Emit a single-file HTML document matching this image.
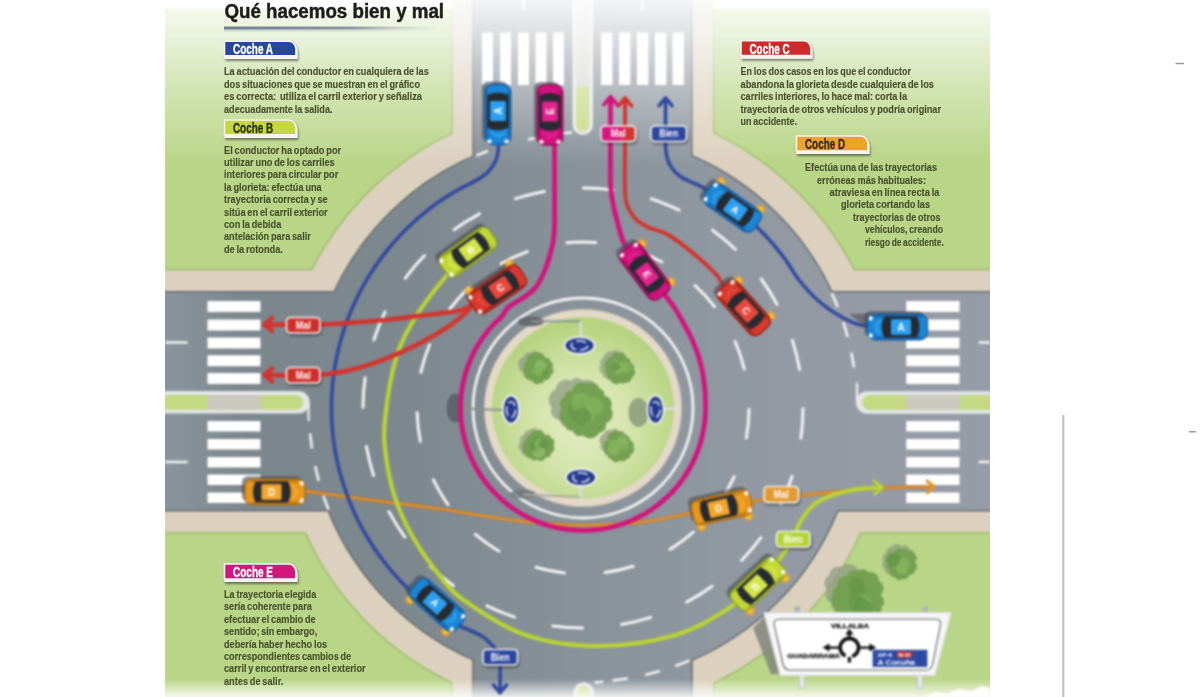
<!DOCTYPE html>
<html lang="es"><head><meta charset="utf-8"><title>Qué hacemos bien y mal</title>
<style>
html,body{margin:0;padding:0;background:#fff}
body{width:1200px;height:697px;overflow:hidden;position:relative}
svg{position:absolute;left:0;top:0;display:block}
text{font-family:"Liberation Sans",sans-serif}
.b{font-weight:bold}
.body{font-size:11.5px;font-weight:bold;fill:#48512d;stroke:#48512d;stroke-width:.15px;word-spacing:-.9px}
.lab{font-size:15px;font-weight:bold;stroke-width:.35px}
.tag{font-size:10px;font-weight:bold;fill:#fff}
.car{font-size:10px;font-weight:bold;fill:#fff}
</style></head><body>
<svg width="1200" height="697" viewBox="0 0 1200 697">
<defs>
<clipPath id="img"><rect x="165" y="0" width="825" height="697"/></clipPath>
<linearGradient id="fadeTop" x1="0" y1="0" x2="0" y2="1"><stop offset="0" stop-color="#fff" stop-opacity=".9"/><stop offset=".2" stop-color="#fff" stop-opacity=".72"/><stop offset=".5" stop-color="#fff" stop-opacity=".4"/><stop offset="1" stop-color="#fff" stop-opacity="0"/></linearGradient>
<linearGradient id="fadeBot" x1="0" y1="0" x2="0" y2="1"><stop offset="0" stop-color="#fff" stop-opacity="0"/><stop offset="1" stop-color="#fff" stop-opacity=".85"/></linearGradient>
<radialGradient id="isl" cx=".5" cy=".58" r=".55"><stop offset="0" stop-color="#e5edc6"/><stop offset=".5" stop-color="#d4e4aa"/><stop offset="1" stop-color="#b5d380"/></radialGradient>
<linearGradient id="roadg" gradientUnits="userSpaceOnUse" x1="165" y1="0" x2="990" y2="0"><stop offset="0" stop-color="#8a949c"/><stop offset=".1" stop-color="#7c868d"/><stop offset=".3" stop-color="#7e888f"/><stop offset=".53" stop-color="#8a939b"/><stop offset=".77" stop-color="#939aa3"/><stop offset="1" stop-color="#969da6"/></linearGradient>
<linearGradient id="rule" x1="0" y1="0" x2="1" y2="0"><stop offset="0" stop-color="#6f7f8e"/><stop offset=".6" stop-color="#8e9aa5"/><stop offset="1" stop-color="#b9c4c4" stop-opacity="0"/></linearGradient>
<linearGradient id="malg" x1="0" y1="0" x2="1" y2="0"><stop offset="0" stop-color="#d6127f"/><stop offset=".45" stop-color="#d6127f"/><stop offset=".8" stop-color="#d4352e"/><stop offset="1" stop-color="#d4352e"/></linearGradient>
<filter id="sh" x="-20%" y="-30%" width="140%" height="170%"><feGaussianBlur in="SourceAlpha" stdDeviation="1"/><feOffset dx="0.5" dy="1.5"/><feComponentTransfer><feFuncA type="linear" slope=".45"/></feComponentTransfer><feMerge><feMergeNode/><feMergeNode in="SourceGraphic"/></feMerge></filter>
<filter id="blur1"><feGaussianBlur stdDeviation="1.2"/></filter>
<filter id="blur2"><feGaussianBlur stdDeviation="2"/></filter>
<filter id="gblur" color-interpolation-filters="sRGB" filterUnits="userSpaceOnUse" x="0" y="0" width="1200" height="697"><feGaussianBlur stdDeviation=".8"/></filter>
<filter id="soft" color-interpolation-filters="sRGB"><feGaussianBlur stdDeviation=".45"/></filter>
</defs>
<rect width="1200" height="697" fill="#fff"/>
<g clip-path="url(#img)"><g filter="url(#gblur)">

<rect x="155" y="-10" width="845" height="717" fill="#dcd1be"/>
<rect x="155" y="-10" width="297" height="280" fill="#b9d587"/>
<rect x="713.8" y="-10" width="287" height="280" fill="#b9d587"/>
<rect x="155" y="532.5" width="297" height="180" fill="#b9d587"/>
<rect x="713.8" y="532.5" width="287" height="180" fill="#b9d587"/>
<clipPath id="pan"><rect x="165" y="0" width="287" height="270"/><rect x="713.75" y="0" width="277" height="270"/><rect x="165" y="532.5" width="287" height="170"/><rect x="713.75" y="532.5" width="277" height="170"/></clipPath>
<path d="M165 269.5H452V0M713.75 0V269.5H990M165 533H452V697M713.75 697V533H990" fill="none" stroke="#9fbd6e" stroke-width="1.6"/>
<circle cx="583" cy="408" r="304" fill="#dcd1be"/>
<circle cx="583" cy="408" r="304.5" fill="none" stroke="#9fbd6e" stroke-width="1.6" clip-path="url(#pan)"/>
<g fill="#636b73" stroke="#636b73" stroke-width="3"><circle cx="583" cy="408" r="274"/><rect x="473.75" y="-5" width="217.4" height="420"/><rect x="473.75" y="400" width="217.5" height="305"/><rect x="160" y="292.5" width="430" height="217.5"/><rect x="580" y="292.5" width="415" height="217.5"/></g>
<g fill="url(#roadg)"><circle cx="583" cy="408" r="274"/><rect x="473.75" y="-5" width="217.4" height="420"/><rect x="473.75" y="400" width="217.5" height="305"/><rect x="160" y="292.5" width="430" height="217.5"/><rect x="580" y="292.5" width="415" height="217.5"/></g>
<rect x="200" y="293" width="68" height="98" fill="#3b444c" opacity="0"/><rect x="200" y="411" width="68" height="99" fill="#3b444c" opacity="0"/><rect x="899" y="293" width="68" height="98" fill="#3b444c" opacity="0"/><rect x="899" y="414" width="68" height="96" fill="#3b444c" opacity="0"/>
<path d="M572.5 -5V124.75A10.25 10.25 0 0 0 593 124.75V-5Z" fill="#e3e6e7"/>
<path d="M576 -5V124.75A6.75 6.75 0 0 0 589.5 124.75V-5Z" fill="#c5d983"/>
<rect x="576" y="-5" width="13.5" height="92" fill="#d6d7d2"/>
<path d="M160 391H298.5A11.25 11.25 0 0 1 298.5 413.5H160Z" fill="#e3e6e7"/>
<path d="M160 395H296A7.4 7.4 0 0 1 296 409.8H160Z" fill="#c5d983"/>
<rect x="207.5" y="395" width="53" height="14.8" fill="#cbc8c0"/>
<path d="M308.6 403V421" stroke="#eef0f2" stroke-width="2.2" fill="none"/>
<path d="M995 391.25H867.25A11.25 11.25 0 0 0 867.25 413.75H995Z" fill="#e3e6e7"/>
<path d="M995 395.1H869.5A7.4 7.4 0 0 0 869.5 409.9H995Z" fill="#c5d983"/>
<rect x="906.25" y="395.1" width="53.25" height="14.8" fill="#cbc8c0"/>
<path d="M857 382.5V401" stroke="#eef0f2" stroke-width="2.2" fill="none"/>
<path d="M573.5 705V692.5A10.25 10.25 0 0 1 594 692.5V705Z" fill="#e3e6e7"/>
<path d="M577 705V692.5A6.75 6.75 0 0 1 590.5 692.5V705Z" fill="#c5d983"/>
<circle cx="583" cy="408" r="110" fill="none" stroke="#f1f3f5" stroke-width="2.8"/>
<path d="M803 408.4A220 220 0 0 1 800.9 438.2M792.1 476.3A220 220 0 0 1 780.9 504.1M760.8 537.6A220 220 0 0 1 741.5 560.5M712 586.2A220 220 0 0 1 686.6 602.1M650.6 617.4A220 220 0 0 1 621.6 624.6M582.6 628A220 220 0 0 1 552.8 625.9M514.7 617.1A220 220 0 0 1 486.9 605.9M453.4 585.8A220 220 0 0 1 430.5 566.5M404.8 537A220 220 0 0 1 388.9 511.6M373.6 475.6A220 220 0 0 1 366.4 446.6M363 407.6A220 220 0 0 1 365.1 377.8M373.9 339.7A220 220 0 0 1 385.1 311.9M405.2 278.4A220 220 0 0 1 424.5 255.5M454 229.8A220 220 0 0 1 479.4 213.9M515.4 198.6A220 220 0 0 1 544.4 191.4M583.4 188A220 220 0 0 1 613.2 190.1M651.3 198.9A220 220 0 0 1 679.1 210.1M712.6 230.2A220 220 0 0 1 735.5 249.5M761.2 279A220 220 0 0 1 777.1 304.4M792.4 340.4A220 220 0 0 1 799.6 369.4M564.5 573A166 166 0 0 1 536.1 567.2M499 551.2A166 166 0 0 1 475.4 534.4M448 504.6A166 166 0 0 1 433.3 479.7M420.4 441.4A166 166 0 0 1 417.1 412.6M420.9 372.4A166 166 0 0 1 429.5 344.7M449.4 309.5A166 166 0 0 1 468.5 287.8M501 263.7A166 166 0 0 1 527.3 251.6M566.8 242.8A166 166 0 0 1 595.7 242.5M635.4 250.5A166 166 0 0 1 662 262M694.9 285.4A166 166 0 0 1 714.5 306.7M735.1 341.5A166 166 0 0 1 744.3 369M749 409.2A166 166 0 0 1 746.3 438M734.2 476.6A166 166 0 0 1 720 501.8M693.2 532.1A166 166 0 0 1 670 549.4M633.2 566.2A166 166 0 0 1 605 572.5" fill="none" stroke="#f1f3f5" stroke-width="3" stroke-linecap="round"/>
<path d="M312 448.5A274 274 0 0 1 310.2 433.3M318.8 480.8A274 274 0 0 1 315.2 465.9M328.6 509.8A274 274 0 0 1 323.3 495.4M831.7 293.1A274 274 0 0 1 837.8 307.1M843.3 322.4A274 274 0 0 1 847.7 337.1M851.3 352.4A274 274 0 0 1 854 367.5M627.8 678.3A274 274 0 0 1 612.6 680.4M659.9 671A274 274 0 0 1 645.1 674.9M689.6 660.4A274 274 0 0 1 675.4 666M476.4 155.6A274 274 0 0 1 487.9 151M527.9 139.6A274 274 0 0 1 540.1 137.4M572 132.5L560 133.5M594.5 682.5L603 681.7" fill="none" stroke="#f1f3f5" stroke-width="2.6"/>
<path d="M165 342.5H187.5M165 462H187.5M978.75 342.5H990M978.75 462H990M523.75 0V11M642.5 0V11" stroke="#f1f3f5" stroke-width="2.6" fill="none"/>
<rect x="155" y="0" width="845" height="165" fill="url(#fadeTop)"/><rect x="155" y="-10" width="845" height="10" fill="#fff" opacity=".9"/>
<rect x="155" y="679" width="845" height="18" fill="url(#fadeBot)"/><rect x="155" y="697" width="845" height="12" fill="#fff" opacity=".85"/>
<rect x="155" y="-10" width="297" height="19" fill="#fff"/><rect x="713.75" y="-10" width="287" height="19" fill="#fff"/>
<path d="M207.5 301h53v11h-53zM906.25 301h53.25v11h-53.25zM207.5 319.5h53v11h-53zM906.25 319.5h53.25v11h-53.25zM207.5 337.5h53v11h-53zM906.25 337.5h53.25v11h-53.25zM207.5 355.2h53v11h-53zM906.25 355.2h53.25v11h-53.25zM207.5 373h53v11h-53zM906.25 373h53.25v11h-53.25zM207.5 421h53v10.6h-53zM906.25 421h53.25v10.6h-53.25zM207.5 439h53v10.6h-53zM906.25 439h53.25v10.6h-53.25zM207.5 457h53v10.6h-53zM906.25 457h53.25v10.6h-53.25zM207.5 474.5h53v10.6h-53zM906.25 474.5h53.25v10.6h-53.25zM207.5 492.5h53v10.6h-53zM906.25 492.5h53.25v10.6h-53.25zM482 32.5h11v52.5h-11zM500 32.5h11v52.5h-11zM518 32.5h11v52.5h-11zM535.5 32.5h11v52.5h-11zM553 32.5h11v52.5h-11zM601 32.5h11.4v52.5h-11.4zM619 32.5h11.4v52.5h-11.4zM637 32.5h11.4v52.5h-11.4zM655 32.5h11.4v52.5h-11.4zM672.5 32.5h11.4v52.5h-11.4z" fill="#fff"/>
<circle cx="583" cy="408" r="98.6" fill="#e4d9c7" stroke="#c9bfae" stroke-width=".8"/>
<circle cx="583" cy="408" r="90.9" fill="url(#isl)"/>
<g filter="url(#soft)">
<ellipse cx="531" cy="321.5" rx="13" ry="5" fill="#5f666d" opacity=".9"/>
<path d="M531 321.3H580.5" stroke="#8d948f" stroke-width="2" fill="none"/>
<ellipse cx="455" cy="408" rx="8.5" ry="14.5" fill="#5a6168" opacity=".92"/>
<path d="M462 408.5L504 410" stroke="#8a9189" stroke-width="2" fill="none"/>
<ellipse cx="638.5" cy="412.5" rx="10" ry="14.5" fill="#8a9a7a" opacity=".85"/>
<ellipse cx="523" cy="494" rx="13" ry="4.5" fill="#6f767c" opacity=".8"/>
<path d="M523 494.5L580 497" stroke="#a9aa9c" stroke-width="2" fill="none"/>
</g>
<path d="M580.6 322V338M580.6 486V497.5M663 408.7H674" stroke="#d8dcdf" stroke-width="2.4" fill="none"/>
<path d="M548.9 365.7A5.3 5.3 0 0 1 545.7 373.7A6.4 6.4 0 0 1 536.8 378.9A5 5 0 0 1 528.7 378.8A5.5 5.5 0 0 1 523.1 371.8A4.3 4.3 0 0 1 518.8 366.5A6.7 6.7 0 0 1 523.7 356.9A5 5 0 0 1 530.7 352.8A4.4 4.4 0 0 1 537.7 352.1A4.9 4.9 0 0 1 543.8 357.1A6.2 6.2 0 0 1 548.9 365.7Z" fill="#8d9a84" opacity=".75"/><path d="M552.2 367.6A4.9 4.9 0 0 1 550.7 375.3A5 5 0 0 1 544 379.7A3.6 3.6 0 0 1 539.8 383.6A5.2 5.2 0 0 1 532.1 380.3A5.8 5.8 0 0 1 525.1 374A4.2 4.2 0 0 1 524 367.4A4 4 0 0 1 527 361.6A4.7 4.7 0 0 1 530.8 355A4.6 4.6 0 0 1 538.1 353.6A4.9 4.9 0 0 1 544.8 357.8A4.6 4.6 0 0 1 550.9 362.1A3.5 3.5 0 0 1 552.2 367.6Z" fill="#74a052"/><path d="M545.7 372.8A2.4 2.4 0 0 1 544.3 376.4A2.3 2.3 0 0 1 540.5 376.6A2 2 0 0 1 537.5 375.6A2.5 2.5 0 0 1 537.9 371.6A2.6 2.6 0 0 1 541 368.9A2.2 2.2 0 0 1 544.3 370.1A1.9 1.9 0 0 1 545.7 372.8Z" fill="#679848" opacity=".85"/><path d="M544.8 372.4A2.4 2.4 0 0 1 542.3 375.4A2.2 2.2 0 0 1 539.1 377A3 3 0 0 1 535 374.3A2.7 2.7 0 0 1 534.9 369.9A2.7 2.7 0 0 1 538.2 367A3 3 0 0 1 542.7 368.6A2.7 2.7 0 0 1 544.8 372.4Z" fill="#679848" opacity=".85"/><path d="M547.9 369.9A2.7 2.7 0 0 1 547 374.1A2.8 2.8 0 0 1 542.5 375A3.1 3.1 0 0 1 538.9 371.4A2.4 2.4 0 0 1 538.3 367.5A2.4 2.4 0 0 1 541.4 365.3A3.1 3.1 0 0 1 546.4 366.1A2.5 2.5 0 0 1 547.9 369.9Z" fill="#679848" opacity=".85"/><path d="M546.2 366.3A3 3 0 0 1 543.3 370.2A2.3 2.3 0 0 1 539.9 371.5A3.2 3.2 0 0 1 535.2 369.2A3.5 3.5 0 0 1 535.5 363.7A3 3 0 0 1 539.2 360.7A2.7 2.7 0 0 1 543.4 361.9A3.2 3.2 0 0 1 546.2 366.3Z" fill="#8eba68" opacity=".85"/><path d="M543 371.9A2.4 2.4 0 0 1 541.2 375.3A2.7 2.7 0 0 1 536.9 375.7A2.8 2.8 0 0 1 533 373.4A3.3 3.3 0 0 1 532.9 368.1A2.7 2.7 0 0 1 537 366.4A3.1 3.1 0 0 1 541.8 367.6A2.8 2.8 0 0 1 543 371.9Z" fill="#82b05c" opacity=".85"/>
<path d="M630 363.8A5.8 5.8 0 0 1 627.4 372.8A7 7 0 0 1 618.3 379.5A4.3 4.3 0 0 1 611.4 378.3A6.4 6.4 0 0 1 602.2 373.5A5.5 5.5 0 0 1 601 364.8A4.8 4.8 0 0 1 603.7 357.6A5.9 5.9 0 0 1 611.4 352.1A5 5 0 0 1 619.4 351.8A5.4 5.4 0 0 1 625.4 358.2A4.5 4.5 0 0 1 630 363.8Z" fill="#8d9a84" opacity=".75"/><path d="M633.9 368.9A5.3 5.3 0 0 1 631.9 377.2A4.9 4.9 0 0 1 625.9 382.3A3.3 3.3 0 0 1 620.6 382.4A6.4 6.4 0 0 1 610.4 380.3A4.4 4.4 0 0 1 607.3 373.8A3.4 3.4 0 0 1 605.7 368.6A4.6 4.6 0 0 1 606.7 361.2A3.4 3.4 0 0 1 611.1 357.9A5.3 5.3 0 0 1 618.2 353.1A5.7 5.7 0 0 1 626.2 357.7A4.2 4.2 0 0 1 630.6 362.9A4.3 4.3 0 0 1 633.9 368.9Z" fill="#74a052"/><path d="M631.8 366.9A3.3 3.3 0 0 1 629.5 371.7A3.2 3.2 0 0 1 624.3 372.5A2.5 2.5 0 0 1 621.6 369.5A3.6 3.6 0 0 1 621.3 363.8A2.8 2.8 0 0 1 625.4 362.1A2.3 2.3 0 0 1 629 362.9A3 3 0 0 1 631.8 366.9Z" fill="#82b05c" opacity=".85"/><path d="M622.1 369.6A2.4 2.4 0 0 1 620.3 373.1A2.2 2.2 0 0 1 616.8 373.7A2.5 2.5 0 0 1 613.7 371.1A1.9 1.9 0 0 1 613.7 368A2.1 2.1 0 0 1 616.3 365.9A2.2 2.2 0 0 1 619.9 366.1A2.5 2.5 0 0 1 622.1 369.6Z" fill="#88b562" opacity=".85"/><path d="M625.6 367A2.5 2.5 0 0 1 623.6 370.5A2 2 0 0 1 620.4 371.2A2.1 2.1 0 0 1 617.7 369.1A2.6 2.6 0 0 1 617.3 364.9A2 2 0 0 1 620.1 363.3A2.3 2.3 0 0 1 623.9 363.2A2.6 2.6 0 0 1 625.6 367Z" fill="#88b562" opacity=".85"/><path d="M622.2 364.6A3.5 3.5 0 0 1 620.2 369.9A2.7 2.7 0 0 1 615.9 369.8A3.1 3.1 0 0 1 611.7 367.2A2.6 2.6 0 0 1 611.7 363A3.1 3.1 0 0 1 615.3 359.7A2.6 2.6 0 0 1 619.3 361.2A2.8 2.8 0 0 1 622.2 364.6Z" fill="#82b05c" opacity=".85"/><path d="M620.1 366.3A2.8 2.8 0 0 1 617.4 369.9A2.3 2.3 0 0 1 613.8 371A2.4 2.4 0 0 1 611.5 367.9A1.9 1.9 0 0 1 611 364.9A2.7 2.7 0 0 1 614.4 362.2A2.1 2.1 0 0 1 617.8 363A2.5 2.5 0 0 1 620.1 366.3Z" fill="#679848" opacity=".85"/>
<path d="M547 443.6A5.6 5.6 0 0 1 545.8 452.6A4.4 4.4 0 0 1 539.6 455.8A5.8 5.8 0 0 1 530.3 456.1A6.6 6.6 0 0 1 520.9 451.1A5.4 5.4 0 0 1 520.3 442.3A5.2 5.2 0 0 1 524.3 434.9A4.4 4.4 0 0 1 529.6 430.2A4.5 4.5 0 0 1 536.9 429.6A5.9 5.9 0 0 1 544.6 435A5.5 5.5 0 0 1 547 443.6Z" fill="#8d9a84" opacity=".75"/><path d="M553.6 445.5A4.7 4.7 0 0 1 551.4 452.7A4.5 4.5 0 0 1 545.7 457.3A5.9 5.9 0 0 1 536.4 459.6A3.7 3.7 0 0 1 530.6 458.3A4.1 4.1 0 0 1 525.9 453.7A4.2 4.2 0 0 1 522.9 447.6A4.5 4.5 0 0 1 525.9 441A4.1 4.1 0 0 1 530 435.8A5.5 5.5 0 0 1 537.7 431.1A4.7 4.7 0 0 1 544.1 435.2A4.7 4.7 0 0 1 551.1 437.9A4.9 4.9 0 0 1 553.6 445.5Z" fill="#74a052"/><path d="M544.8 451.6A3.4 3.4 0 0 1 542.4 456.5A3.1 3.1 0 0 1 537.5 457.3A3.5 3.5 0 0 1 533.2 453.7A2.7 2.7 0 0 1 533.1 449.4A2.9 2.9 0 0 1 536.8 446.4A3.1 3.1 0 0 1 541.8 446.7A3.6 3.6 0 0 1 544.8 451.6Z" fill="#8eba68" opacity=".85"/><path d="M538.3 446.9A2.5 2.5 0 0 1 536.3 450.4A2 2 0 0 1 533.1 451.1A2.1 2.1 0 0 1 530.4 449A2.6 2.6 0 0 1 530 444.8A2 2 0 0 1 532.8 443.2A2.3 2.3 0 0 1 536.6 443.1A2.6 2.6 0 0 1 538.3 446.9Z" fill="#679848" opacity=".85"/><path d="M543.5 442.4A3.4 3.4 0 0 1 541.5 447.5A2.6 2.6 0 0 1 537.3 447.5A3 3 0 0 1 533.2 444.9A2.6 2.6 0 0 1 533.2 440.8A3 3 0 0 1 536.7 437.5A2.6 2.6 0 0 1 540.6 439A2.7 2.7 0 0 1 543.5 442.4Z" fill="#639546" opacity=".85"/><path d="M546.1 443.8A3.5 3.5 0 0 1 542.7 448.2A2.9 2.9 0 0 1 538.1 449.6A2.9 2.9 0 0 1 535.3 445.8A2.4 2.4 0 0 1 534.7 442A3.4 3.4 0 0 1 539 438.7A2.7 2.7 0 0 1 543.2 439.6A3.2 3.2 0 0 1 546.1 443.8Z" fill="#82b05c" opacity=".85"/><path d="M548.1 443.9A2.4 2.4 0 0 1 546.4 447.4A2.1 2.1 0 0 1 543 447.8A2.8 2.8 0 0 1 539.3 445.1A2.1 2.1 0 0 1 540.4 441.8A2.3 2.3 0 0 1 542.5 438.8A2.2 2.2 0 0 1 545.8 440.2A2.7 2.7 0 0 1 548.1 443.9Z" fill="#639546" opacity=".85"/>
<path d="M629 443.3A5.9 5.9 0 0 1 625.2 452A4.4 4.4 0 0 1 620 456.8A5.7 5.7 0 0 1 610.8 456.1A5 5 0 0 1 604.3 451.4A4.9 4.9 0 0 1 600.8 444.4A6.9 6.9 0 0 1 604.2 433.8A4.8 4.8 0 0 1 611.2 430.4A4.7 4.7 0 0 1 618.7 431A5.6 5.6 0 0 1 626.1 436.1A4.8 4.8 0 0 1 629 443.3Z" fill="#8d9a84" opacity=".75"/><path d="M633.3 446.3A5.5 5.5 0 0 1 630.3 454.7A3.7 3.7 0 0 1 626.2 459A3.9 3.9 0 0 1 620.1 460.6A5.6 5.6 0 0 1 611.1 459.3A3.6 3.6 0 0 1 608.1 454.3A4.7 4.7 0 0 1 604 448A5.8 5.8 0 0 1 608.4 439.7A5.4 5.4 0 0 1 612.8 432.2A4.2 4.2 0 0 1 619.5 432A3.6 3.6 0 0 1 624.3 435.2A4.7 4.7 0 0 1 630 440.2A4.3 4.3 0 0 1 633.3 446.3Z" fill="#74a052"/><path d="M628.7 444.7A3.3 3.3 0 0 1 626 449.3A2.7 2.7 0 0 1 621.8 450.2A2.8 2.8 0 0 1 618.3 447.5A3.5 3.5 0 0 1 617.7 441.9A2.6 2.6 0 0 1 621.4 439.8A3.1 3.1 0 0 1 626.4 439.6A3.4 3.4 0 0 1 628.7 444.7Z" fill="#82b05c" opacity=".85"/><path d="M619.1 449.3A3.5 3.5 0 0 1 617.1 454.6A2.7 2.7 0 0 1 612.8 454.5A3.1 3.1 0 0 1 608.6 451.9A2.6 2.6 0 0 1 608.6 447.7A3 3 0 0 1 612.3 444.4A2.6 2.6 0 0 1 616.2 445.9A2.8 2.8 0 0 1 619.1 449.3Z" fill="#88b562" opacity=".85"/><path d="M620 445.1A3.3 3.3 0 0 1 616.8 449.3A2.8 2.8 0 0 1 612.5 450.6A2.8 2.8 0 0 1 609.8 447A2.2 2.2 0 0 1 609.3 443.4A3.2 3.2 0 0 1 613.3 440.3A2.5 2.5 0 0 1 617.2 441.2A3 3 0 0 1 620 445.1Z" fill="#88b562" opacity=".85"/><path d="M626.4 440.1A2.4 2.4 0 0 1 624.7 443.6A2.2 2.2 0 0 1 621.3 444A2.8 2.8 0 0 1 617.6 441.3A2.2 2.2 0 0 1 618.7 438A2.3 2.3 0 0 1 620.8 434.9A2.3 2.3 0 0 1 624.1 436.4A2.7 2.7 0 0 1 626.4 440.1Z" fill="#88b562" opacity=".85"/><path d="M620.2 446.3A2.8 2.8 0 0 1 616.8 449.3A2.3 2.3 0 0 1 613.2 450.4A2.5 2.5 0 0 1 610.4 447.6A2.3 2.3 0 0 1 609.8 443.9A2.7 2.7 0 0 1 613 440.9A2.4 2.4 0 0 1 616.7 442A3.4 3.4 0 0 1 620.2 446.3Z" fill="#82b05c" opacity=".85"/>
<path d="M602.7 403.2A9 9 0 0 1 601 417.6A13.5 13.5 0 0 1 583.6 430.8A8 8 0 0 1 571.3 426.9A8.3 8.3 0 0 1 559.9 420A9.4 9.4 0 0 1 551.6 407.2A11.3 11.3 0 0 1 555.4 389.5A11.2 11.2 0 0 1 571.2 380.9A7.2 7.2 0 0 1 582.8 380.8A9.1 9.1 0 0 1 596.1 387A10.8 10.8 0 0 1 602.7 403.2Z" fill="#8d9a84" opacity=".75"/><path d="M610.8 407.9A10 10 0 0 1 605.9 423.3A6.9 6.9 0 0 1 599.5 432.4A10.6 10.6 0 0 1 582.6 435.3A6.9 6.9 0 0 1 572.6 430.5A6 6 0 0 1 564.9 424.7A9.6 9.6 0 0 1 561.7 409.5A8.2 8.2 0 0 1 564.9 396.7A5.6 5.6 0 0 1 572 391.2A10.8 10.8 0 0 1 587.7 383.5A8 8 0 0 1 599.4 388.8A5.1 5.1 0 0 1 604 395.6A8.7 8.7 0 0 1 610.8 407.9Z" fill="#74a052"/><path d="M589.6 408.6A6.4 6.4 0 0 1 584.8 417.7A5.2 5.2 0 0 1 576.9 420.6A6.7 6.7 0 0 1 569 413.2A4.9 4.9 0 0 1 570.2 405.4A4.5 4.5 0 0 1 575.3 400.2A5.8 5.8 0 0 1 584.3 402.7A4.9 4.9 0 0 1 589.6 408.6Z" fill="#679848" opacity=".85"/><path d="M589.3 402.8A4.3 4.3 0 0 1 586.8 409.2A4.9 4.9 0 0 1 579.1 410.8A4.5 4.5 0 0 1 572.8 406.9A4.8 4.8 0 0 1 572.3 399.3A5.4 5.4 0 0 1 578.9 393.7A4.5 4.5 0 0 1 585.9 395.2A5.2 5.2 0 0 1 589.3 402.8Z" fill="#82b05c" opacity=".85"/><path d="M594.2 416.7A4.7 4.7 0 0 1 589.5 422.6A3.5 3.5 0 0 1 584.5 425.3A4.9 4.9 0 0 1 578.7 420.1A4.5 4.5 0 0 1 579.3 412.8A4.2 4.2 0 0 1 584.6 408.4A3.7 3.7 0 0 1 590.6 408.6A5.5 5.5 0 0 1 594.2 416.7Z" fill="#82b05c" opacity=".85"/><path d="M602.5 406A3.8 3.8 0 0 1 601 412A4.5 4.5 0 0 1 593.8 413.3A4.5 4.5 0 0 1 587.4 409.8A5.1 5.1 0 0 1 588.2 401.7A4.8 4.8 0 0 1 594 396.6A3.8 3.8 0 0 1 599 400.3A4.2 4.2 0 0 1 602.5 406Z" fill="#82b05c" opacity=".85"/><path d="M591.1 416.9A4.3 4.3 0 0 1 587.1 422.7A4.2 4.2 0 0 1 580.9 425.2A4.5 4.5 0 0 1 576.7 419.1A3.8 3.8 0 0 1 576.1 413.1A4.4 4.4 0 0 1 581.1 408.2A4.5 4.5 0 0 1 587.8 410.9A4.2 4.2 0 0 1 591.1 416.9Z" fill="#679848" opacity=".85"/>
<ellipse cx="579.5" cy="345.5" rx="15" ry="8.5" fill="#22398c" stroke="#f4f5f7" stroke-width="1.8"/><ellipse cx="579.5" cy="345.5" rx="8.2" ry="4.7" fill="none" stroke="#dfe5f4" stroke-width="1.6" stroke-dasharray="9.9 3.8"/>
<ellipse cx="581" cy="477.5" rx="15" ry="8.5" fill="#22398c" stroke="#f4f5f7" stroke-width="1.8"/><ellipse cx="581" cy="477.5" rx="8.2" ry="4.7" fill="none" stroke="#dfe5f4" stroke-width="1.6" stroke-dasharray="9.9 3.8"/>
<ellipse cx="511" cy="409.5" rx="8.2" ry="14" fill="#22398c" stroke="#f4f5f7" stroke-width="1.8"/><ellipse cx="511" cy="409.5" rx="4.5" ry="7.7" fill="none" stroke="#dfe5f4" stroke-width="1.6" stroke-dasharray="9.3 3.6"/>
<ellipse cx="655.5" cy="409.5" rx="8.2" ry="14" fill="#22398c" stroke="#f4f5f7" stroke-width="1.8"/><ellipse cx="655.5" cy="409.5" rx="4.5" ry="7.7" fill="none" stroke="#dfe5f4" stroke-width="1.6" stroke-dasharray="9.3 3.6"/>
<path d="M911.5 560.2A5.5 5.5 0 0 1 908.5 568.6A5.8 5.8 0 0 1 900.4 573.2A4.8 4.8 0 0 1 892.8 574.6A6.2 6.2 0 0 1 884.5 569A5.1 5.1 0 0 1 883.4 560.9A5.3 5.3 0 0 1 886.2 552.9A4.9 4.9 0 0 1 891.5 547A6 6 0 0 1 901.1 546.1A7.2 7.2 0 0 1 911 552.4A4.9 4.9 0 0 1 911.5 560.2Z" fill="#8d9a84" opacity=".75"/><path d="M914.7 561.9A5.5 5.5 0 0 1 914.9 570.8A4.2 4.2 0 0 1 909.1 574.4A5 5 0 0 1 902.5 578.9A4.8 4.8 0 0 1 895 577.4A5.8 5.8 0 0 1 889.7 569.7A4.2 4.2 0 0 1 887.1 563.4A4.8 4.8 0 0 1 887.3 555.7A4.5 4.5 0 0 1 894 553A6 6 0 0 1 903 549.3A3 3 0 0 1 907.6 550.9A5.3 5.3 0 0 1 915.2 555A4.3 4.3 0 0 1 914.7 561.9Z" fill="#74a052"/><path d="M902.4 562.5A3.2 3.2 0 0 1 901.4 567.5A2.8 2.8 0 0 1 897 567.8A3 3 0 0 1 892.4 566A3.2 3.2 0 0 1 892.1 560.9A3.3 3.3 0 0 1 896.7 558.2A2.7 2.7 0 0 1 901.1 558.8A2.4 2.4 0 0 1 902.4 562.5Z" fill="#8eba68" opacity=".85"/><path d="M904.7 561.6A2.8 2.8 0 0 1 902.9 565.8A2.6 2.6 0 0 1 898.7 565.7A2.4 2.4 0 0 1 895.9 563.1A1.9 1.9 0 0 1 896.5 560.1A2.2 2.2 0 0 1 899.2 557.7A2.2 2.2 0 0 1 902.8 557.8A2.7 2.7 0 0 1 904.7 561.6Z" fill="#639546" opacity=".85"/><path d="M907.4 567.9A3.2 3.2 0 0 1 906.2 573A3.6 3.6 0 0 1 900.5 573.4A3 3 0 0 1 897.1 570A2.9 2.9 0 0 1 897.6 565.5A3.2 3.2 0 0 1 901.2 561.7A2.9 2.9 0 0 1 905.6 563.1A3.2 3.2 0 0 1 907.4 567.9Z" fill="#88b562" opacity=".85"/><path d="M900.9 560.6A3 3 0 0 1 898 564.6A4 4 0 0 1 892 566.6A2.6 2.6 0 0 1 889.2 563.6A3.7 3.7 0 0 1 889 557.6A2.7 2.7 0 0 1 891.8 554.2A3.6 3.6 0 0 1 897.6 555.4A3.8 3.8 0 0 1 900.9 560.6Z" fill="#639546" opacity=".85"/><path d="M909.8 563.2A3.2 3.2 0 0 1 907.7 567.8A3.5 3.5 0 0 1 902.3 569.7A3 3 0 0 1 898.9 566.3A2.6 2.6 0 0 1 898.8 562A3.4 3.4 0 0 1 902.3 557.8A3.4 3.4 0 0 1 907.7 559.2A2.8 2.8 0 0 1 909.8 563.2Z" fill="#82b05c" opacity=".85"/>
<path d="M872.8 588.3A10.4 10.4 0 0 1 868 604.4A10.2 10.2 0 0 1 855.7 615.5A8.8 8.8 0 0 1 841.9 612.6A9.2 9.2 0 0 1 831.1 602.4A8.1 8.1 0 0 1 827.2 589.9A9.2 9.2 0 0 1 829.4 575.2A8.8 8.8 0 0 1 841.1 567.2A11 11 0 0 1 858.6 570.1A9.5 9.5 0 0 1 871.2 578.9A5.9 5.9 0 0 1 872.8 588.3Z" fill="#8d9a84" opacity=".75"/><path d="M880.3 595.3A7.5 7.5 0 0 1 881.5 607.4A9.9 9.9 0 0 1 869.8 618.2A7.8 7.8 0 0 1 857.2 619.6A8.4 8.4 0 0 1 844 616.7A8.2 8.2 0 0 1 834.9 607.1A8.1 8.1 0 0 1 833.6 594.1A5.2 5.2 0 0 1 837.3 586.5A9 9 0 0 1 847.3 576A7.5 7.5 0 0 1 858.4 571A6 6 0 0 1 868 572.3A8.3 8.3 0 0 1 878.7 580.4A9.3 9.3 0 0 1 880.3 595.3Z" fill="#74a052"/><path d="M865.1 591.1A4.1 4.1 0 0 1 864.1 597.7A5 5 0 0 1 856.2 599.2A4.1 4.1 0 0 1 851.5 594.4A4.3 4.3 0 0 1 851.3 587.6A4.3 4.3 0 0 1 856.9 583.4A4.2 4.2 0 0 1 863.2 585.9A3.4 3.4 0 0 1 865.1 591.1Z" fill="#679848" opacity=".85"/><path d="M863.9 585.4A4.3 4.3 0 0 1 860 591.1A2.9 2.9 0 0 1 855.3 591.8A3.3 3.3 0 0 1 850.9 588.7A3.8 3.8 0 0 1 849.3 582.8A5 5 0 0 1 855.4 577.6A3.5 3.5 0 0 1 860.6 579.7A4 4 0 0 1 863.9 585.4Z" fill="#679848" opacity=".85"/><path d="M870.8 605.7A5.1 5.1 0 0 1 867.2 613A5 5 0 0 1 859.4 615A4.4 4.4 0 0 1 853.6 611A4.7 4.7 0 0 1 853.7 603.3A5.7 5.7 0 0 1 858.5 595.5A5.9 5.9 0 0 1 867.5 598.4A5 5 0 0 1 870.8 605.7Z" fill="#8eba68" opacity=".85"/><path d="M862.7 599.9A3.7 3.7 0 0 1 859.9 605.3A4 4 0 0 1 854.1 608.2A3.8 3.8 0 0 1 850.1 603.5A4.1 4.1 0 0 1 850.4 597A3.5 3.5 0 0 1 853.5 592.2A4.9 4.9 0 0 1 860.8 595.1A3.2 3.2 0 0 1 862.7 599.9Z" fill="#679848" opacity=".85"/><path d="M872.2 607.6A5.2 5.2 0 0 1 868.1 614.8A5.7 5.7 0 0 1 859.1 615.9A4.8 4.8 0 0 1 853 611A5 5 0 0 1 855.4 603.4A4.4 4.4 0 0 1 858.8 597.2A5.9 5.9 0 0 1 867.6 601.1A4.9 4.9 0 0 1 872.2 607.6Z" fill="#639546" opacity=".85"/>
<path d="M300 490.5C311.7 492.1 346.7 496.9 370 500C393.3 503.1 415.8 505.6 440 509C464.2 512.4 492.5 517.8 515 520.5C537.5 523.2 557.5 524.4 575 525C592.5 525.6 607.5 524.7 620 524C632.5 523.3 638.5 522.8 650 521C661.5 519.2 677 515.8 689 513.5C701 511.2 711.2 509.6 722 507.5C732.8 505.4 740.8 503 753.8 501C766.8 499 779.8 497.6 800 495.5C820.2 493.4 853 489.8 875 488.3C897 486.9 922.5 487.1 932 486.8" fill="none" stroke="#b9742a" stroke-width="3.4" stroke-linecap="round" stroke-linejoin="round"/>
<path d="M300 490.5C311.7 492.1 346.7 496.9 370 500C393.3 503.1 415.8 505.6 440 509C464.2 512.4 492.5 517.8 515 520.5C537.5 523.2 557.5 524.4 575 525C592.5 525.6 607.5 524.7 620 524C632.5 523.3 638.5 522.8 650 521C661.5 519.2 677 515.8 689 513.5C701 511.2 711.2 509.6 722 507.5C732.8 505.4 740.8 503 753.8 501C766.8 499 779.8 497.6 800 495.5C820.2 493.4 853 489.8 875 488.3C897 486.9 922.5 487.1 932 486.8" fill="none" stroke="#e4932a" stroke-width="2.2" stroke-linecap="round" stroke-linejoin="round"/>
<path d="M927.3 493L934.3 486.7L926.9 480.9" fill="none" stroke="#e4932a" stroke-width="3" stroke-linecap="round" stroke-linejoin="round"/>
<path d="M498.5 140C498.5 141.7 498.7 146.7 498.3 150C497.9 153.3 497.6 156.4 496 160C494.4 163.6 491.7 168.2 488.5 171.5C485.3 174.8 482 176.9 476.7 180.1C471.4 183.2 463.3 186.7 456.8 190.5C450.3 194.2 444 198.3 437.8 202.6C431.7 206.9 425.8 211.6 420.1 216.4C414.4 221.3 408.9 226.4 403.6 231.7C398.4 237.1 393.3 242.7 388.6 248.5C383.8 254.2 379.3 260.3 375.1 266.5C370.9 272.6 366.9 279 363.3 285.6C359.7 292.1 356.3 298.9 353.2 305.7C350.2 312.5 347.4 319.6 345 326.6C342.6 333.7 340.5 340.9 338.7 348.2C336.9 355.5 335.5 362.9 334.3 370.3C333.2 377.7 332.4 385.2 332 392.6C331.5 400.1 331.4 407.6 331.6 415.1C331.8 422.6 332.4 430.1 333.2 437.6C334.1 445 335.3 452.4 336.9 459.8C338.4 467.1 340.3 474.4 342.5 481.5C344.7 488.7 347.2 495.8 350 502.7C352.8 509.7 356 516.5 359.4 523.2C362.8 529.8 366.6 536.3 370.6 542.7C374.6 549 378.9 555.2 383.5 561.1C388 567 392.9 572.8 397.9 578.3C403 583.8 408.4 589.1 413.9 594.2C419.4 599.2 425.2 604 431.2 608.5C437.2 613 441.6 616.9 449.7 621.3C457.9 625.7 473.1 631.2 480 635C486.9 638.8 488 641 491 644C494 647 496.5 649.7 498 653C499.5 656.3 499.7 657.8 500 664C500.3 670.2 500 685.7 500 690" fill="none" stroke="#2f4aa0" stroke-width="3.6" stroke-linecap="round" stroke-linejoin="round"/>
<path d="M493.5 685L500 692.8L506.5 685" fill="none" stroke="#2f4aa0" stroke-width="3.6" stroke-linecap="round" stroke-linejoin="round"/>
<path d="M900 327C894.2 326.8 874.6 327.6 865 326C855.4 324.4 850.4 321.8 842.5 317.5C834.6 313.2 824.8 306.3 817.5 300C810.2 293.7 803.8 286 798.6 279.5C793.4 272.9 790.6 266.7 786.1 260.6C781.7 254.5 777 248.5 772 242.9C767.1 237.2 761.8 231.7 756.4 226.5C750.9 221.3 745.2 216.3 739.3 211.6C733.4 206.9 727.3 202.5 721 198.3C714.7 194.2 708.1 190.3 701.5 186.7C694.9 183.2 686.3 180.6 681.1 177C675.8 173.3 672.5 169.5 670 165C667.5 160.5 666.5 155.8 665.8 150C665 144.2 665.5 138.3 665.5 130C665.5 121.7 665.5 105 665.5 100" fill="none" stroke="#2f4aa0" stroke-width="3.6" stroke-linecap="round" stroke-linejoin="round"/>
<path d="M672 105.6L665.5 97.8L659 105.6" fill="none" stroke="#2f4aa0" stroke-width="3.6" stroke-linecap="round" stroke-linejoin="round"/>
<path d="M468 252C464.2 256.2 453.8 266.6 445.2 277.2C436.6 287.8 424.6 302.2 416.4 315.6C408.2 329.1 401.3 340.5 396.1 357.9C390.9 375.3 386.6 403.6 385 420.1C383.3 436.6 384.4 444.5 386 457.1C387.6 469.7 390.4 483.2 394.5 495.9C398.6 508.6 403.7 520.7 410.7 533.2C417.6 545.7 427.4 560 436.1 571.1C444.9 582.2 448.2 589 463.2 599.7C478.3 610.4 503.6 627.6 526.3 635.3C549.1 643.1 574.9 646 599.6 646C624.4 646 653.9 641 674.8 635.2C695.7 629.3 711 619.4 725 610.7C738.9 602.1 748.8 592.6 758.4 583.4C767.9 574.1 776.7 562.6 782.5 555C788.2 547.5 790.1 543.4 793 538C795.9 532.6 796.8 527.8 800 522.5C803.2 517.2 807.5 510.4 812.5 506C817.5 501.6 822.9 498.7 830 496C837.1 493.3 846.7 491 855 489.6C863.3 488.2 875.8 487.9 880 487.5" fill="none" stroke="#b9d531" stroke-width="4.2" stroke-linecap="round" stroke-linejoin="round"/>
<path d="M874.9 494.2L882.3 487.3L874.2 481.2" fill="none" stroke="#b9d531" stroke-width="3.2" stroke-linecap="round" stroke-linejoin="round"/>
<path d="M744 308C740.3 303.8 726.5 288.5 722 283C717.5 277.5 721.5 280 716.7 275C711.9 270 701.3 259.8 693 253C684.7 246.2 673.9 238.2 666.7 234C659.5 229.8 655 230.3 650 228C645 225.7 640.4 223.5 636.7 220C633 216.5 630 211.7 628 207C626 202.3 625.5 201.5 625 192C624.5 182.5 625 165.3 625 150C625 134.7 625 108.3 625 100" fill="none" stroke="#d3342d" stroke-width="3.8" stroke-linecap="round" stroke-linejoin="round"/>
<path d="M631.5 105.8L625 98L618.5 105.8" fill="none" stroke="#d3342d" stroke-width="3.6" stroke-linecap="round" stroke-linejoin="round"/>
<path d="M472 304.5C470 305.5 468.4 308.7 460 310.5C451.6 312.3 434.2 313.9 421.7 315.5C409.2 317.1 401.9 318.5 385 320C368.1 321.5 339.5 323.8 320 324.5C300.5 325.2 276.7 324.5 268 324.5" fill="none" stroke="#d3342d" stroke-width="4.6" stroke-linecap="round" stroke-linejoin="round"/>
<path d="M472 305.5C470 307.6 466.2 313.1 460 318C453.8 322.9 445.4 329 435 335C424.6 341 410 348.3 397.5 353.8C385 359.2 372.9 364 360 367.5C347.1 371 335.3 373.8 320 375C304.7 376.2 276.7 375 268 375" fill="none" stroke="#d3342d" stroke-width="4.6" stroke-linecap="round" stroke-linejoin="round"/>
<path d="M272 318.2L264.5 324.5L272 330.8" fill="none" stroke="#d3342d" stroke-width="4.6" stroke-linecap="round" stroke-linejoin="round"/>
<path d="M272 368.7L264.5 375L272 381.3" fill="none" stroke="#d3342d" stroke-width="4.6" stroke-linecap="round" stroke-linejoin="round"/>
<path d="M554.5 140C554.5 146.7 554.5 165.8 554.5 180C554.5 194.2 554.8 214.2 554.5 225C554.2 235.8 554.1 237.5 552.5 245C550.9 252.5 547.8 263 545 270C542.2 277 539.3 282.6 536 287C532.7 291.4 529.7 293.1 525 296.5C520.3 299.9 511.7 304.3 508 307.5C504.3 310.7 505.1 312.7 502.6 315.5C500.2 318.4 496.3 321.4 493.4 324.5C490.4 327.6 487.7 330.9 485.1 334.4C482.5 337.8 480.1 341.4 477.9 345.1C475.7 348.7 473.7 352.5 471.9 356.4C470.1 360.3 468.5 364.3 467.1 368.4C465.7 372.4 464.5 376.6 463.6 380.8C462.6 385 461.9 389.2 461.4 393.5C460.9 397.7 460.6 402 460.5 406.3C460.5 410.6 460.6 414.9 461 419.2C461.4 423.4 462 427.7 462.9 431.9C463.7 436.1 464.8 440.3 466 444.4C467.3 448.5 468.8 452.5 470.5 456.5C472.2 460.4 474.1 464.3 476.2 468C478.3 471.8 480.6 475.4 483.1 478.9C485.6 482.4 488.3 485.8 491.1 489C493.9 492.2 497 495.3 500.1 498.2C503.3 501.1 506.6 503.9 510 506.4C513.5 509 517.1 511.3 520.8 513.5C524.5 515.7 528.3 517.7 532.2 519.5C536.1 521.2 540.1 522.8 544.2 524.2C548.2 525.5 552.4 526.7 556.6 527.6C560.8 528.5 565 529.3 569.3 529.7C573.6 530.2 577.9 530.5 582.2 530.5C586.4 530.5 590.8 530.3 595 529.9C599.3 529.5 603.6 528.8 607.8 528C612 527.1 616.1 526 620.2 524.7C624.3 523.4 628.3 521.9 632.3 520.2C636.2 518.4 640 516.5 643.8 514.4C647.5 512.2 651.1 509.9 654.6 507.4C658.1 504.9 661.4 502.2 664.6 499.3C667.8 496.5 670.9 493.4 673.8 490.3C676.6 487.1 679.4 483.7 681.9 480.3C684.4 476.8 686.8 473.2 688.9 469.5C691.1 465.8 693.1 461.9 694.8 458C696.6 454.1 698.1 450.1 699.5 446C700.8 441.9 701.9 437.8 702.8 433.6C703.7 429.4 704.4 425.1 704.8 420.9C705.3 416.6 705.5 413.7 705.5 408C705.5 402.3 705.4 393.7 704.6 386.6C703.9 379.4 702.8 372.2 701 365C699.3 357.9 696.9 350.8 694 343.9C691.1 337 687.3 330 683.7 323.5C680.2 317 677.2 311.6 672.6 305C667.9 298.4 660.6 289.6 656 284C651.4 278.4 650.2 278 645 271.5C639.8 265 629.7 253.6 625 245C620.3 236.4 619.1 227.8 616.9 220C614.7 212.2 613.1 204.7 612 198C610.9 191.3 610.8 189.7 610.5 180C610.2 170.3 610.5 153.5 610.5 140C610.5 126.5 610.5 105.8 610.5 99" fill="none" stroke="#d4127e" stroke-width="4.7" stroke-linecap="round" stroke-linejoin="round"/>
<path d="M617 104.6L610.5 96.8L604 104.6" fill="none" stroke="#d4127e" stroke-width="3.8" stroke-linecap="round" stroke-linejoin="round"/>
<path d="M849 314L871 313.5L869 329Z" fill="#4a5058" opacity=".6" filter="url(#soft)"/>
<g transform="translate(498 114.5)"><rect x="-30" y="-12.8" width="60" height="25.5" rx="6" transform="translate(-3.2 -3) rotate(90)" fill="#454b53" opacity=".62" filter="url(#soft)"/><g transform="rotate(90)"><rect x="-30" y="-12.8" width="60" height="25.5" rx="7.5" fill="#1c86d4" stroke="#125ba6" stroke-width="1.3"/><path d="M-24 -10.9H23M-24 10.9H23" stroke="#125ba6" stroke-width="2.6" opacity=".6" fill="none"/><path d="M17.5 -8Q29 0 17.5 8L16 6Q22.5 0 16 -6Z" fill="#2d9ff0" opacity=".85"/><path d="M-19.5 -10.6Q-24.5 0 -19.5 10.6L13 10.8Q18.5 0 13 -10.8Z" fill="#262b32"/><rect x="-13.5" y="-7.8" width="20" height="15.6" rx="1.6" fill="#2d9ff0"/><path d="M-13.5 -7.8H6.5M-13.5 7.8H6.5" stroke="#1c86d4" stroke-width=".8" fill="none" opacity=".7"/><ellipse cx="26.8" cy="-8.6" rx="1.9" ry="2.4" fill="#fff"/><ellipse cx="26.8" cy="8.6" rx="1.9" ry="2.4" fill="#fff"/></g><text class="car" text-anchor="middle" transform="translate(-0 -3.5) rotate(-90)" y="3.6">A</text></g>
<g transform="translate(550 115)"><rect x="-30" y="-12.8" width="60" height="25.5" rx="6" transform="translate(-3.2 -3) rotate(90)" fill="#454b53" opacity=".62" filter="url(#soft)"/><g transform="rotate(90)"><rect x="-30" y="-12.8" width="60" height="25.5" rx="7.5" fill="#d3127d" stroke="#970c5a" stroke-width="1.3"/><path d="M-24 -10.9H23M-24 10.9H23" stroke="#970c5a" stroke-width="2.6" opacity=".6" fill="none"/><path d="M17.5 -8Q29 0 17.5 8L16 6Q22.5 0 16 -6Z" fill="#e3228d" opacity=".85"/><path d="M-19.5 -10.6Q-24.5 0 -19.5 10.6L13 10.8Q18.5 0 13 -10.8Z" fill="#262b32"/><rect x="-13.5" y="-7.8" width="20" height="15.6" rx="1.6" fill="#e3228d"/><path d="M-13.5 -7.8H6.5M-13.5 7.8H6.5" stroke="#d3127d" stroke-width=".8" fill="none" opacity=".7"/><ellipse cx="26.8" cy="-8.6" rx="1.9" ry="2.4" fill="#fff"/><ellipse cx="26.8" cy="8.6" rx="1.9" ry="2.4" fill="#fff"/></g><text class="car" text-anchor="middle" transform="translate(-0 -3.5) rotate(-90)" y="3.6">E</text></g>
<g transform="translate(468 252)"><rect x="-30" y="-12.8" width="60" height="25.5" rx="6" transform="translate(-3.2 -3) rotate(144)" fill="#454b53" opacity=".62" filter="url(#soft)"/><g transform="rotate(144)"><rect x="-30" y="-12.8" width="60" height="25.5" rx="7.5" fill="#c2d736" stroke="#8a9c1f" stroke-width="1.3"/><path d="M-24 -10.9H23M-24 10.9H23" stroke="#8a9c1f" stroke-width="2.6" opacity=".6" fill="none"/><path d="M17.5 -8Q29 0 17.5 8L16 6Q22.5 0 16 -6Z" fill="#d2e549" opacity=".85"/><path d="M-19.5 -10.6Q-24.5 0 -19.5 10.6L13 10.8Q18.5 0 13 -10.8Z" fill="#262b32"/><rect x="-13.5" y="-7.8" width="20" height="15.6" rx="1.6" fill="#d2e549"/><path d="M-13.5 -7.8H6.5M-13.5 7.8H6.5" stroke="#c2d736" stroke-width=".8" fill="none" opacity=".7"/><ellipse cx="26.8" cy="-8.6" rx="1.9" ry="2.4" fill="#fff"/><ellipse cx="26.8" cy="8.6" rx="1.9" ry="2.4" fill="#fff"/></g><text class="car" text-anchor="middle" transform="translate(2.8 -2.1) rotate(-36)" y="3.6">B</text></g>
<g transform="translate(497.5 289.5)"><rect x="-30" y="-12.8" width="60" height="25.5" rx="6" transform="translate(-3.2 -3) rotate(146)" fill="#454b53" opacity=".62" filter="url(#soft)"/><g transform="rotate(146)"><polygon points="30.5,14.2 27,15.5 28.6,18.8 25.2,17.3 24,20.8 22.8,17.3 19.4,18.8 21,15.5 17.5,14.2 21,13 19.4,9.7 22.8,11.2 24,7.8 25.2,11.2 28.6,9.7 27,13" fill="#f5a623" opacity=".9"/><circle cx="24" cy="14.2" r="2.7" fill="#fbc02d"/><polygon points="-17.5,14.2 -21,15.5 -19.4,18.8 -22.8,17.3 -24,20.8 -25.2,17.3 -28.6,18.8 -27,15.5 -30.5,14.2 -27,13 -28.6,9.7 -25.2,11.2 -24,7.8 -22.8,11.2 -19.4,9.7 -21,13" fill="#f5a623" opacity=".9"/><circle cx="-24" cy="14.2" r="2.7" fill="#fbc02d"/><rect x="-30" y="-12.8" width="60" height="25.5" rx="7.5" fill="#d8392b" stroke="#9b1f17" stroke-width="1.3"/><path d="M-24 -10.9H23M-24 10.9H23" stroke="#9b1f17" stroke-width="2.6" opacity=".6" fill="none"/><path d="M17.5 -8Q29 0 17.5 8L16 6Q22.5 0 16 -6Z" fill="#e8473a" opacity=".85"/><path d="M-19.5 -10.6Q-24.5 0 -19.5 10.6L13 10.8Q18.5 0 13 -10.8Z" fill="#262b32"/><rect x="-13.5" y="-7.8" width="20" height="15.6" rx="1.6" fill="#e8473a"/><path d="M-13.5 -7.8H6.5M-13.5 7.8H6.5" stroke="#d8392b" stroke-width=".8" fill="none" opacity=".7"/><ellipse cx="26.8" cy="-8.6" rx="1.9" ry="2.4" fill="#fff"/><ellipse cx="26.8" cy="8.6" rx="1.9" ry="2.4" fill="#fff"/></g><text class="car" text-anchor="middle" transform="translate(2.9 -2) rotate(-34)" y="3.6">C</text></g>
<g transform="translate(645 271.5)"><rect x="-30" y="-12.8" width="60" height="25.5" rx="6" transform="translate(-3.2 -3) rotate(233)" fill="#454b53" opacity=".62" filter="url(#soft)"/><g transform="rotate(233)"><polygon points="30.5,14.2 27,15.5 28.6,18.8 25.2,17.3 24,20.8 22.8,17.3 19.4,18.8 21,15.5 17.5,14.2 21,13 19.4,9.7 22.8,11.2 24,7.8 25.2,11.2 28.6,9.7 27,13" fill="#f5a623" opacity=".9"/><circle cx="24" cy="14.2" r="2.7" fill="#fbc02d"/><polygon points="-17.5,14.2 -21,15.5 -19.4,18.8 -22.8,17.3 -24,20.8 -25.2,17.3 -28.6,18.8 -27,15.5 -30.5,14.2 -27,13 -28.6,9.7 -25.2,11.2 -24,7.8 -22.8,11.2 -19.4,9.7 -21,13" fill="#f5a623" opacity=".9"/><circle cx="-24" cy="14.2" r="2.7" fill="#fbc02d"/><rect x="-30" y="-12.8" width="60" height="25.5" rx="7.5" fill="#d3127d" stroke="#970c5a" stroke-width="1.3"/><path d="M-24 -10.9H23M-24 10.9H23" stroke="#970c5a" stroke-width="2.6" opacity=".6" fill="none"/><path d="M17.5 -8Q29 0 17.5 8L16 6Q22.5 0 16 -6Z" fill="#e3228d" opacity=".85"/><path d="M-19.5 -10.6Q-24.5 0 -19.5 10.6L13 10.8Q18.5 0 13 -10.8Z" fill="#262b32"/><rect x="-13.5" y="-7.8" width="20" height="15.6" rx="1.6" fill="#e3228d"/><path d="M-13.5 -7.8H6.5M-13.5 7.8H6.5" stroke="#d3127d" stroke-width=".8" fill="none" opacity=".7"/><ellipse cx="26.8" cy="-8.6" rx="1.9" ry="2.4" fill="#fff"/><ellipse cx="26.8" cy="8.6" rx="1.9" ry="2.4" fill="#fff"/></g><text class="car" text-anchor="middle" transform="translate(2.1 2.8) rotate(53)" y="3.6">E</text></g>
<g transform="translate(744 308)"><rect x="-30" y="-12.8" width="60" height="25.5" rx="6" transform="translate(-3.2 -3) rotate(228)" fill="#454b53" opacity=".62" filter="url(#soft)"/><g transform="rotate(228)"><polygon points="30.5,14.2 27,15.5 28.6,18.8 25.2,17.3 24,20.8 22.8,17.3 19.4,18.8 21,15.5 17.5,14.2 21,13 19.4,9.7 22.8,11.2 24,7.8 25.2,11.2 28.6,9.7 27,13" fill="#f5a623" opacity=".9"/><circle cx="24" cy="14.2" r="2.7" fill="#fbc02d"/><polygon points="-17.5,14.2 -21,15.5 -19.4,18.8 -22.8,17.3 -24,20.8 -25.2,17.3 -28.6,18.8 -27,15.5 -30.5,14.2 -27,13 -28.6,9.7 -25.2,11.2 -24,7.8 -22.8,11.2 -19.4,9.7 -21,13" fill="#f5a623" opacity=".9"/><circle cx="-24" cy="14.2" r="2.7" fill="#fbc02d"/><rect x="-30" y="-12.8" width="60" height="25.5" rx="7.5" fill="#d8392b" stroke="#9b1f17" stroke-width="1.3"/><path d="M-24 -10.9H23M-24 10.9H23" stroke="#9b1f17" stroke-width="2.6" opacity=".6" fill="none"/><path d="M17.5 -8Q29 0 17.5 8L16 6Q22.5 0 16 -6Z" fill="#e8473a" opacity=".85"/><path d="M-19.5 -10.6Q-24.5 0 -19.5 10.6L13 10.8Q18.5 0 13 -10.8Z" fill="#262b32"/><rect x="-13.5" y="-7.8" width="20" height="15.6" rx="1.6" fill="#e8473a"/><path d="M-13.5 -7.8H6.5M-13.5 7.8H6.5" stroke="#d8392b" stroke-width=".8" fill="none" opacity=".7"/><ellipse cx="26.8" cy="-8.6" rx="1.9" ry="2.4" fill="#fff"/><ellipse cx="26.8" cy="8.6" rx="1.9" ry="2.4" fill="#fff"/></g><text class="car" text-anchor="middle" transform="translate(2.3 2.6) rotate(48)" y="3.6">C</text></g>
<g transform="translate(732.5 207.5)"><rect x="-30" y="-12.8" width="60" height="25.5" rx="6" transform="translate(-3.2 -3) rotate(215)" fill="#454b53" opacity=".62" filter="url(#soft)"/><g transform="rotate(215)"><polygon points="30.5,14.2 27,15.5 28.6,18.8 25.2,17.3 24,20.8 22.8,17.3 19.4,18.8 21,15.5 17.5,14.2 21,13 19.4,9.7 22.8,11.2 24,7.8 25.2,11.2 28.6,9.7 27,13" fill="#f5a623" opacity=".9"/><circle cx="24" cy="14.2" r="2.7" fill="#fbc02d"/><polygon points="-17.5,14.2 -21,15.5 -19.4,18.8 -22.8,17.3 -24,20.8 -25.2,17.3 -28.6,18.8 -27,15.5 -30.5,14.2 -27,13 -28.6,9.7 -25.2,11.2 -24,7.8 -22.8,11.2 -19.4,9.7 -21,13" fill="#f5a623" opacity=".9"/><circle cx="-24" cy="14.2" r="2.7" fill="#fbc02d"/><rect x="-30" y="-12.8" width="60" height="25.5" rx="7.5" fill="#1c86d4" stroke="#125ba6" stroke-width="1.3"/><path d="M-24 -10.9H23M-24 10.9H23" stroke="#125ba6" stroke-width="2.6" opacity=".6" fill="none"/><path d="M17.5 -8Q29 0 17.5 8L16 6Q22.5 0 16 -6Z" fill="#2d9ff0" opacity=".85"/><path d="M-19.5 -10.6Q-24.5 0 -19.5 10.6L13 10.8Q18.5 0 13 -10.8Z" fill="#262b32"/><rect x="-13.5" y="-7.8" width="20" height="15.6" rx="1.6" fill="#2d9ff0"/><path d="M-13.5 -7.8H6.5M-13.5 7.8H6.5" stroke="#1c86d4" stroke-width=".8" fill="none" opacity=".7"/><ellipse cx="26.8" cy="-8.6" rx="1.9" ry="2.4" fill="#fff"/><ellipse cx="26.8" cy="8.6" rx="1.9" ry="2.4" fill="#fff"/></g><text class="car" text-anchor="middle" transform="translate(2.9 2) rotate(35)" y="3.6">A</text></g>
<g transform="translate(897.5 327)"><rect x="-30" y="-12.8" width="60" height="25.5" rx="6" transform="translate(-3.2 -3) rotate(180)" fill="#454b53" opacity=".62" filter="url(#soft)"/><g transform="rotate(180)"><rect x="-30" y="-12.8" width="60" height="25.5" rx="7.5" fill="#1c86d4" stroke="#125ba6" stroke-width="1.3"/><path d="M-24 -10.9H23M-24 10.9H23" stroke="#125ba6" stroke-width="2.6" opacity=".6" fill="none"/><path d="M17.5 -8Q29 0 17.5 8L16 6Q22.5 0 16 -6Z" fill="#2d9ff0" opacity=".85"/><path d="M-19.5 -10.6Q-24.5 0 -19.5 10.6L13 10.8Q18.5 0 13 -10.8Z" fill="#262b32"/><rect x="-13.5" y="-7.8" width="20" height="15.6" rx="1.6" fill="#2d9ff0"/><path d="M-13.5 -7.8H6.5M-13.5 7.8H6.5" stroke="#1c86d4" stroke-width=".8" fill="none" opacity=".7"/><ellipse cx="26.8" cy="-8.6" rx="1.9" ry="2.4" fill="#fff"/><ellipse cx="26.8" cy="8.6" rx="1.9" ry="2.4" fill="#fff"/></g><text class="car" text-anchor="middle" transform="translate(3.5 -0) rotate(0)" y="3.6">A</text></g>
<g transform="translate(275 492)"><rect x="-30" y="-12.8" width="60" height="25.5" rx="6" transform="translate(-3.2 -3) rotate(0)" fill="#454b53" opacity=".62" filter="url(#soft)"/><g transform="rotate(0)"><rect x="-30" y="-12.8" width="60" height="25.5" rx="7.5" fill="#e8971e" stroke="#ad6b0e" stroke-width="1.3"/><path d="M-24 -10.9H23M-24 10.9H23" stroke="#ad6b0e" stroke-width="2.6" opacity=".6" fill="none"/><path d="M17.5 -8Q29 0 17.5 8L16 6Q22.5 0 16 -6Z" fill="#f4a72e" opacity=".85"/><path d="M-19.5 -10.6Q-24.5 0 -19.5 10.6L13 10.8Q18.5 0 13 -10.8Z" fill="#262b32"/><rect x="-13.5" y="-7.8" width="20" height="15.6" rx="1.6" fill="#f4a72e"/><path d="M-13.5 -7.8H6.5M-13.5 7.8H6.5" stroke="#e8971e" stroke-width=".8" fill="none" opacity=".7"/><ellipse cx="26.8" cy="-8.6" rx="1.9" ry="2.4" fill="#fff"/><ellipse cx="26.8" cy="8.6" rx="1.9" ry="2.4" fill="#fff"/></g><text class="car" text-anchor="middle" transform="translate(-3.5 -0) rotate(0)" y="3.6">D</text></g>
<g transform="translate(722 507.5)"><rect x="-30" y="-12.8" width="60" height="25.5" rx="6" transform="translate(-3.2 -3) rotate(-12.4)" fill="#454b53" opacity=".62" filter="url(#soft)"/><g transform="rotate(-12.4)"><polygon points="30.5,14.2 27,15.5 28.6,18.8 25.2,17.3 24,20.8 22.8,17.3 19.4,18.8 21,15.5 17.5,14.2 21,13 19.4,9.7 22.8,11.2 24,7.8 25.2,11.2 28.6,9.7 27,13" fill="#f5a623" opacity=".9"/><circle cx="24" cy="14.2" r="2.7" fill="#fbc02d"/><polygon points="-17.5,14.2 -21,15.5 -19.4,18.8 -22.8,17.3 -24,20.8 -25.2,17.3 -28.6,18.8 -27,15.5 -30.5,14.2 -27,13 -28.6,9.7 -25.2,11.2 -24,7.8 -22.8,11.2 -19.4,9.7 -21,13" fill="#f5a623" opacity=".9"/><circle cx="-24" cy="14.2" r="2.7" fill="#fbc02d"/><rect x="-30" y="-12.8" width="60" height="25.5" rx="7.5" fill="#e8971e" stroke="#ad6b0e" stroke-width="1.3"/><path d="M-24 -10.9H23M-24 10.9H23" stroke="#ad6b0e" stroke-width="2.6" opacity=".6" fill="none"/><path d="M17.5 -8Q29 0 17.5 8L16 6Q22.5 0 16 -6Z" fill="#f4a72e" opacity=".85"/><path d="M-19.5 -10.6Q-24.5 0 -19.5 10.6L13 10.8Q18.5 0 13 -10.8Z" fill="#262b32"/><rect x="-13.5" y="-7.8" width="20" height="15.6" rx="1.6" fill="#f4a72e"/><path d="M-13.5 -7.8H6.5M-13.5 7.8H6.5" stroke="#e8971e" stroke-width=".8" fill="none" opacity=".7"/><ellipse cx="26.8" cy="-8.6" rx="1.9" ry="2.4" fill="#fff"/><ellipse cx="26.8" cy="8.6" rx="1.9" ry="2.4" fill="#fff"/></g><text class="car" text-anchor="middle" transform="translate(-3.4 0.8) rotate(-12.4)" y="3.6">D</text></g>
<g transform="translate(758 584)"><rect x="-30" y="-12.8" width="60" height="25.5" rx="6" transform="translate(-3.2 -3) rotate(-43)" fill="#454b53" opacity=".62" filter="url(#soft)"/><g transform="rotate(-43)"><polygon points="30.5,14.2 27,15.5 28.6,18.8 25.2,17.3 24,20.8 22.8,17.3 19.4,18.8 21,15.5 17.5,14.2 21,13 19.4,9.7 22.8,11.2 24,7.8 25.2,11.2 28.6,9.7 27,13" fill="#f5a623" opacity=".9"/><circle cx="24" cy="14.2" r="2.7" fill="#fbc02d"/><polygon points="-17.5,14.2 -21,15.5 -19.4,18.8 -22.8,17.3 -24,20.8 -25.2,17.3 -28.6,18.8 -27,15.5 -30.5,14.2 -27,13 -28.6,9.7 -25.2,11.2 -24,7.8 -22.8,11.2 -19.4,9.7 -21,13" fill="#f5a623" opacity=".9"/><circle cx="-24" cy="14.2" r="2.7" fill="#fbc02d"/><rect x="-30" y="-12.8" width="60" height="25.5" rx="7.5" fill="#c2d736" stroke="#8a9c1f" stroke-width="1.3"/><path d="M-24 -10.9H23M-24 10.9H23" stroke="#8a9c1f" stroke-width="2.6" opacity=".6" fill="none"/><path d="M17.5 -8Q29 0 17.5 8L16 6Q22.5 0 16 -6Z" fill="#d2e549" opacity=".85"/><path d="M-19.5 -10.6Q-24.5 0 -19.5 10.6L13 10.8Q18.5 0 13 -10.8Z" fill="#262b32"/><rect x="-13.5" y="-7.8" width="20" height="15.6" rx="1.6" fill="#d2e549"/><path d="M-13.5 -7.8H6.5M-13.5 7.8H6.5" stroke="#c2d736" stroke-width=".8" fill="none" opacity=".7"/><ellipse cx="26.8" cy="-8.6" rx="1.9" ry="2.4" fill="#fff"/><ellipse cx="26.8" cy="8.6" rx="1.9" ry="2.4" fill="#fff"/></g><text class="car" text-anchor="middle" transform="translate(-2.6 2.4) rotate(-43)" y="3.6">B</text></g>
<g transform="translate(437.5 605)"><rect x="-30" y="-12.8" width="60" height="25.5" rx="6" transform="translate(-3.2 -3) rotate(41.6)" fill="#454b53" opacity=".62" filter="url(#soft)"/><g transform="rotate(41.6)"><polygon points="30.5,14.2 27,15.5 28.6,18.8 25.2,17.3 24,20.8 22.8,17.3 19.4,18.8 21,15.5 17.5,14.2 21,13 19.4,9.7 22.8,11.2 24,7.8 25.2,11.2 28.6,9.7 27,13" fill="#f5a623" opacity=".9"/><circle cx="24" cy="14.2" r="2.7" fill="#fbc02d"/><polygon points="-17.5,14.2 -21,15.5 -19.4,18.8 -22.8,17.3 -24,20.8 -25.2,17.3 -28.6,18.8 -27,15.5 -30.5,14.2 -27,13 -28.6,9.7 -25.2,11.2 -24,7.8 -22.8,11.2 -19.4,9.7 -21,13" fill="#f5a623" opacity=".9"/><circle cx="-24" cy="14.2" r="2.7" fill="#fbc02d"/><rect x="-30" y="-12.8" width="60" height="25.5" rx="7.5" fill="#1c86d4" stroke="#125ba6" stroke-width="1.3"/><path d="M-24 -10.9H23M-24 10.9H23" stroke="#125ba6" stroke-width="2.6" opacity=".6" fill="none"/><path d="M17.5 -8Q29 0 17.5 8L16 6Q22.5 0 16 -6Z" fill="#2d9ff0" opacity=".85"/><path d="M-19.5 -10.6Q-24.5 0 -19.5 10.6L13 10.8Q18.5 0 13 -10.8Z" fill="#262b32"/><rect x="-13.5" y="-7.8" width="20" height="15.6" rx="1.6" fill="#2d9ff0"/><path d="M-13.5 -7.8H6.5M-13.5 7.8H6.5" stroke="#1c86d4" stroke-width=".8" fill="none" opacity=".7"/><ellipse cx="26.8" cy="-8.6" rx="1.9" ry="2.4" fill="#fff"/><ellipse cx="26.8" cy="8.6" rx="1.9" ry="2.4" fill="#fff"/></g><text class="car" text-anchor="middle" transform="translate(-2.6 -2.3) rotate(41.6)" y="3.6">A</text></g>
<g filter="url(#sh)"><rect x="601" y="126" width="34.5" height="15.5" rx="4" fill="url(#malg)" stroke="#f3f3f3" stroke-width="1.6"/></g><text class="tag" x="618.2" y="137.3" text-anchor="middle" textLength="15" lengthAdjust="spacingAndGlyphs">Mal</text>
<g filter="url(#sh)"><rect x="651" y="126" width="35.5" height="15.5" rx="4" fill="#2b459c" stroke="#f3f3f3" stroke-width="1.6"/></g><text class="tag" x="668.8" y="137.3" text-anchor="middle" textLength="19" lengthAdjust="spacingAndGlyphs">Bien</text>
<g filter="url(#sh)"><rect x="286.5" y="317.5" width="33.5" height="15.5" rx="4" fill="#cf2e2a" stroke="#f3f3f3" stroke-width="1.6"/></g><text class="tag" x="303.2" y="328.9" text-anchor="middle" textLength="15" lengthAdjust="spacingAndGlyphs">Mal</text>
<g filter="url(#sh)"><rect x="286.5" y="367.5" width="33.5" height="15.5" rx="4" fill="#cf2e2a" stroke="#f3f3f3" stroke-width="1.6"/></g><text class="tag" x="303.2" y="378.9" text-anchor="middle" textLength="15" lengthAdjust="spacingAndGlyphs">Mal</text>
<g filter="url(#sh)"><rect x="764" y="486.5" width="34.5" height="16" rx="4" fill="#e39a33" stroke="#f3f3f3" stroke-width="1.6"/></g><text class="tag" x="781.2" y="498.1" text-anchor="middle" textLength="15" lengthAdjust="spacingAndGlyphs">Mal</text>
<g filter="url(#sh)"><rect x="776.5" y="531.5" width="33.5" height="15.5" rx="4" fill="#b4d335" stroke="#f3f3f3" stroke-width="1.6"/></g><text class="tag" x="793.2" y="542.9" text-anchor="middle" textLength="19" lengthAdjust="spacingAndGlyphs">Bien</text>
<g filter="url(#sh)"><rect x="483" y="649.5" width="34.5" height="15.5" rx="4" fill="#2b459c" stroke="#f3f3f3" stroke-width="1.6"/></g><text class="tag" x="500.2" y="660.9" text-anchor="middle" textLength="19" lengthAdjust="spacingAndGlyphs">Bien</text>
<path d="M753 628L766 615L784 674L771 674Z" fill="#7d8078" opacity=".8" filter="url(#soft)"/>
<path d="M794.5 606.5h5.5v7h-5.5zM922.5 606.5h5.5v7h-5.5z" fill="#aeb3b8"/>
<path d="M799.2 675h5.6v13.5h-5.6zM917.2 675h5.6v13.5h-5.6z" fill="#e3e5e8" stroke="#b9bdc2" stroke-width=".8"/>
<path d="M763.8 612.5H951.3L935 675.5H780Z" fill="#f4f5f6" stroke="#d5d8dc" stroke-width="1"/>
<path d="M780 619.2H935.5Q941.5 619.2 940.3 625L932.5 664.5Q931.3 670 925.5 670H790Q784.5 670 783.2 664.5L774.3 625Q773 619.2 780 619.2Z" fill="#fff" stroke="#5e5e5e" stroke-width="1.1"/>
<g stroke="#111" fill="none" stroke-linecap="butt"><path d="M849.4 657V662.5" stroke-width="3.2"/><path d="M852.2 656.3A9.2 9.2 0 1 0 845.5 655.9" stroke-width="3.6"/><path d="M849.4 637.5V633M840 647.6H829M859 647.6H870" stroke-width="2.4"/></g>
<path d="M849.4 628.8L853.6 634.6H845.2ZM822.6 647.6L829.5 643.6V651.6ZM876.2 647.6L869.3 643.6V651.6Z" fill="#111"/>
<text class="b" x="850" y="628.3" font-size="5.6" fill="#111" stroke="#111" stroke-width=".3" text-anchor="middle" textLength="38" lengthAdjust="spacingAndGlyphs">VILLALBA</text>
<text class="b" x="787.3" y="658.2" font-size="5.6" fill="#111" stroke="#111" stroke-width=".3" textLength="52.5" lengthAdjust="spacingAndGlyphs">GUADARRAMA</text>
<rect x="872.6" y="649.8" width="54.8" height="17.2" fill="#2b4aa2"/>
<rect x="897" y="651.6" width="15" height="6" fill="#d3302c"/>
<text class="b" x="877.5" y="657" font-size="5.6" fill="#fff" textLength="14.5" lengthAdjust="spacingAndGlyphs">AP-6</text>
<text class="b" x="898.5" y="656.6" font-size="4.8" fill="#fff" textLength="12" lengthAdjust="spacingAndGlyphs">N-VI</text>
<text class="b" x="877.5" y="665" font-size="7" fill="#fff" textLength="37.5" lengthAdjust="spacingAndGlyphs">A Coruña</text>
<path d="M925 697L935 692L948 694L958 689L972 691L982 686L990 688V697Z" fill="#fff"/>
</g></g>
<text class="b" x="224.5" y="18" font-size="19.5" fill="#1d1d1b" stroke="#1d1d1b" stroke-width=".45" textLength="219.5" lengthAdjust="spacingAndGlyphs">Qué hacemos bien y mal</text>
<rect x="224" y="26.5" width="215" height="3" fill="url(#rule)"/>
<rect x="224" y="29.5" width="215" height="2" fill="url(#rule)" opacity=".25"/>
<g filter="url(#sh)"><path d="M224.5 41.3H289Q294.5 41.8 296 48.3V55.8H224.5Z" transform="translate(.6 2.2)" fill="#f4f4f0" stroke="#f4f4f0" stroke-width="1.8" stroke-linejoin="round"/><path d="M224.5 41.3H289Q294.5 41.8 296 48.3V55.8H224.5Z" fill="#27479b" stroke="#f4f4f2" stroke-width="1.6" stroke-linejoin="round"/></g><text class="lab" x="233" y="53.8" fill="#fff" stroke="#fff" textLength="40" lengthAdjust="spacingAndGlyphs">Coche A</text>
<text class="body" x="224" y="75" textLength="204.8" lengthAdjust="spacingAndGlyphs" xml:space="preserve">La actuación del conductor en cualquiera de las</text>
<text class="body" x="224" y="87.5" textLength="196" lengthAdjust="spacingAndGlyphs" xml:space="preserve">dos situaciones que se muestran en el gráfico</text>
<text class="body" x="224" y="100" textLength="198" lengthAdjust="spacingAndGlyphs" xml:space="preserve">es correcta:  utiliza el carril exterior y señaliza</text>
<text class="body" x="224" y="112.5" textLength="108.5" lengthAdjust="spacingAndGlyphs" xml:space="preserve">adecuadamente la salida.</text>
<g filter="url(#sh)"><path d="M224.5 120H289Q294.5 120.5 296 127V134.8H224.5Z" transform="translate(.6 2.2)" fill="#f4f4f0" stroke="#f4f4f0" stroke-width="1.8" stroke-linejoin="round"/><path d="M224.5 120H289Q294.5 120.5 296 127V134.8H224.5Z" fill="#c4d743" stroke="#f4f4f2" stroke-width="1.6" stroke-linejoin="round"/></g><text class="lab" x="233" y="132.7" fill="#2b3020" stroke="#2b3020" textLength="40" lengthAdjust="spacingAndGlyphs">Coche B</text>
<text class="body" x="224" y="153.5" textLength="117.1" lengthAdjust="spacingAndGlyphs" xml:space="preserve">El conductor ha optado por</text>
<text class="body" x="224" y="165.9" textLength="110.7" lengthAdjust="spacingAndGlyphs" xml:space="preserve">utilizar uno de los carriles</text>
<text class="body" x="224" y="178.3" textLength="114.2" lengthAdjust="spacingAndGlyphs" xml:space="preserve">interiores para circular por</text>
<text class="body" x="224" y="190.7" textLength="97.7" lengthAdjust="spacingAndGlyphs" xml:space="preserve">la glorieta: efectúa una</text>
<text class="body" x="224" y="203.1" textLength="103.7" lengthAdjust="spacingAndGlyphs" xml:space="preserve">trayectoria correcta y se</text>
<text class="body" x="224" y="215.5" textLength="103.7" lengthAdjust="spacingAndGlyphs" xml:space="preserve">sitúa en el carril exterior</text>
<text class="body" x="224" y="227.9" textLength="57.3" lengthAdjust="spacingAndGlyphs" xml:space="preserve">con la debida</text>
<text class="body" x="224" y="240.3" textLength="86.8" lengthAdjust="spacingAndGlyphs" xml:space="preserve">antelación para salir</text>
<text class="body" x="224" y="252.7" textLength="58.8" lengthAdjust="spacingAndGlyphs" xml:space="preserve">de la rotonda.</text>
<g filter="url(#sh)"><path d="M741 40.8H804Q809.5 41.3 811 47.8V55.6H741Z" transform="translate(.6 2.2)" fill="#f4f4f0" stroke="#f4f4f0" stroke-width="1.8" stroke-linejoin="round"/><path d="M741 40.8H804Q809.5 41.3 811 47.8V55.6H741Z" fill="#cf2a2b" stroke="#f4f4f2" stroke-width="1.6" stroke-linejoin="round"/></g><text class="lab" x="749.5" y="53.5" fill="#fff" stroke="#fff" textLength="40" lengthAdjust="spacingAndGlyphs">Coche C</text>
<text class="body" x="740.5" y="75.3" textLength="170.5" lengthAdjust="spacingAndGlyphs" xml:space="preserve">En los dos casos en los que el conductor</text>
<text class="body" x="740.5" y="87.8" textLength="193.5" lengthAdjust="spacingAndGlyphs" xml:space="preserve">abandona la glorieta desde cualquiera de los</text>
<text class="body" x="740.5" y="100.3" textLength="166.5" lengthAdjust="spacingAndGlyphs" xml:space="preserve">carriles interiores, lo hace mal: corta la</text>
<text class="body" x="740.5" y="112.8" textLength="200.5" lengthAdjust="spacingAndGlyphs" xml:space="preserve">trayectoria de otros vehículos y podría originar</text>
<text class="body" x="740.5" y="125.3" textLength="56.5" lengthAdjust="spacingAndGlyphs" xml:space="preserve">un accidente.</text>
<g filter="url(#sh)"><path d="M796.5 136H861Q866.5 136.5 868 143V151H796.5Z" transform="translate(.6 2.2)" fill="#f4f4f0" stroke="#f4f4f0" stroke-width="1.8" stroke-linejoin="round"/><path d="M796.5 136H861Q866.5 136.5 868 143V151H796.5Z" fill="#eba32f" stroke="#f4f4f2" stroke-width="1.6" stroke-linejoin="round"/></g><text class="lab" x="805" y="148.8" fill="#3a2a10" stroke="#3a2a10" textLength="40" lengthAdjust="spacingAndGlyphs">Coche D</text>
<text class="body" x="805" y="171" textLength="132" lengthAdjust="spacingAndGlyphs" xml:space="preserve">Efectúa una de las trayectorias</text>
<text class="body" x="817" y="183.8" textLength="109" lengthAdjust="spacingAndGlyphs" xml:space="preserve">erróneas más habituales:</text>
<text class="body" x="829.5" y="195.7" textLength="110" lengthAdjust="spacingAndGlyphs" xml:space="preserve">atraviesa en línea recta la</text>
<text class="body" x="841" y="208" textLength="89" lengthAdjust="spacingAndGlyphs" xml:space="preserve">glorieta cortando las</text>
<text class="body" x="853" y="220.5" textLength="87.5" lengthAdjust="spacingAndGlyphs" xml:space="preserve">trayectorias de otros</text>
<text class="body" x="865" y="232.7" textLength="78" lengthAdjust="spacingAndGlyphs" xml:space="preserve">vehículos, creando</text>
<text class="body" x="865" y="246" textLength="78.8" lengthAdjust="spacingAndGlyphs" xml:space="preserve">riesgo de accidente.</text>
<g filter="url(#sh)"><path d="M224.5 564H289Q294.5 564.5 296 571V579H224.5Z" transform="translate(.6 2.2)" fill="#f4f4f0" stroke="#f4f4f0" stroke-width="1.8" stroke-linejoin="round"/><path d="M224.5 564H289Q294.5 564.5 296 571V579H224.5Z" fill="#d2147d" stroke="#f4f4f2" stroke-width="1.6" stroke-linejoin="round"/></g><text class="lab" x="233" y="576.8" fill="#fff" stroke="#fff" textLength="40" lengthAdjust="spacingAndGlyphs">Coche E</text>
<text class="body" x="224" y="598" textLength="92.2" lengthAdjust="spacingAndGlyphs" xml:space="preserve">La trayectoria elegida</text>
<text class="body" x="224" y="610.4" textLength="87.8" lengthAdjust="spacingAndGlyphs" xml:space="preserve">sería coherente para</text>
<text class="body" x="224" y="622.8" textLength="91.7" lengthAdjust="spacingAndGlyphs" xml:space="preserve">efectuar el cambio de</text>
<text class="body" x="224" y="635.2" textLength="93.2" lengthAdjust="spacingAndGlyphs" xml:space="preserve">sentido; sin embargo,</text>
<text class="body" x="224" y="647.6" textLength="103.2" lengthAdjust="spacingAndGlyphs" xml:space="preserve">debería haber hecho los</text>
<text class="body" x="224" y="660" textLength="127.1" lengthAdjust="spacingAndGlyphs" xml:space="preserve">correspondientes cambios de</text>
<text class="body" x="224" y="672.4" textLength="141.6" lengthAdjust="spacingAndGlyphs" xml:space="preserve">carril y encontrarse en el exterior</text>
<text class="body" x="224" y="684.8" textLength="59.3" lengthAdjust="spacingAndGlyphs" xml:space="preserve">antes de salir.</text>
<path d="M1063.3 415V697" stroke="#c2c2c2" stroke-width="2.2" fill="none"/>
<path d="M1175.5 63.5h8.5M1189 431.7h7" stroke="#9a9a9a" stroke-width="1.6" fill="none"/>
</svg></body></html>
